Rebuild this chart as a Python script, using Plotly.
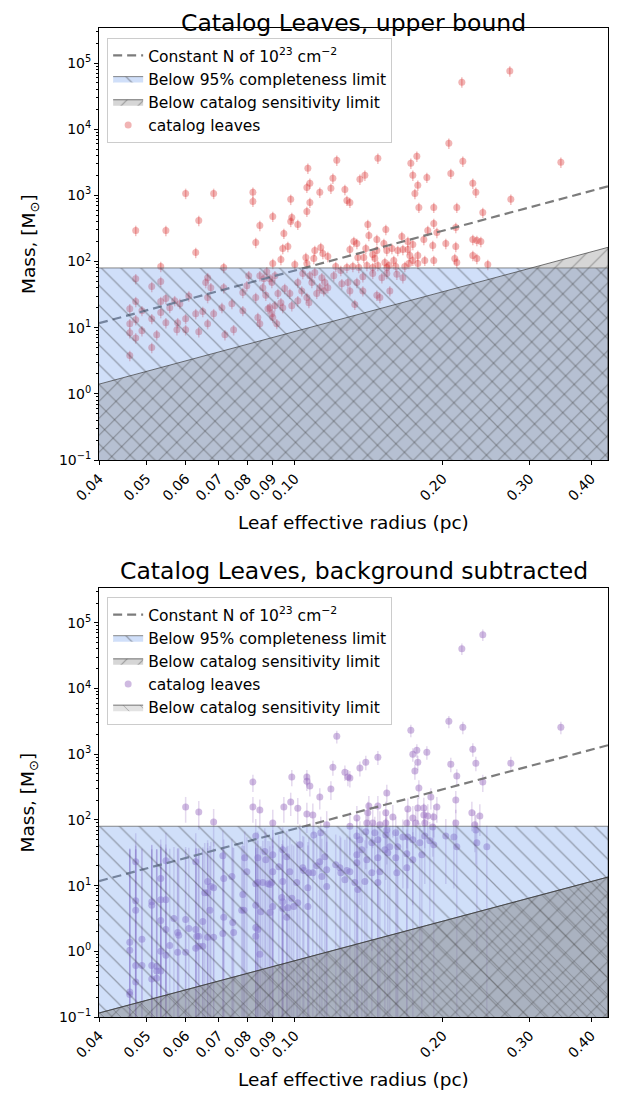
import math
import plotly.graph_objects as go

# --- upper bound catalog: leaf effective radius (pc) and mass (Msun) ---
radius_upper = [
    0.0475, 0.0547, 0.0600, 0.0684, 0.0638, 0.0629, 0.0534, 0.0475, 0.0512, 0.0534,
    0.0462, 0.0475, 0.0489, 0.0462, 0.0475, 0.0475, 0.0489, 0.0462, 0.0462, 0.0512,
    0.0524, 0.0512, 0.0534, 0.0547, 0.0534, 0.0547, 0.0557, 0.0570, 0.0584, 0.0609,
    0.0600, 0.0578, 0.0576, 0.0600, 0.0629, 0.0638, 0.0650, 0.0665, 0.0659, 0.0665,
    0.0675, 0.0684, 0.0665, 0.0711, 0.0717, 0.0717, 0.0721, 0.0751, 0.0745, 0.0784,
    0.0784, 0.0799, 0.0806, 0.0833, 0.0822, 0.0822, 0.0849, 0.0841, 0.0849, 0.0833,
    0.0861, 0.0877, 0.0890, 0.0902, 0.0902, 0.0898, 0.0911, 0.0873, 0.0882,
    0.0981, 0.0986, 0.0981, 0.0950, 0.0945, 0.0968, 0.1014, 0.0937, 0.1000, 0.1063,
    0.1073, 0.1058, 0.1073, 0.1058, 0.1124, 0.1184, 0.1195, 0.1217, 0.1264, 0.1276,
    0.1294, 0.1356, 0.1388, 0.1475, 0.1721, 0.1770, 0.1737, 0.1778, 0.1754, 0.1855,
    0.1787, 0.1916, 0.1916, 0.1407, 0.1414, 0.1531, 0.1468, 0.1517, 0.1394, 0.1318,
    0.1337, 0.1294, 0.1381, 0.1343, 0.1440, 0.1454, 0.1468, 0.1538, 0.1575, 0.1650,
    0.1697, 0.1737, 0.1829, 0.1863, 0.1907, 0.1944, 0.1619, 0.1589, 0.1524, 0.1553,
    0.1713, 0.1737, 0.1778, 0.1837, 0.1697, 0.1658, 0.1140, 0.1167, 0.1129, 0.1098,
    0.1093, 0.1053, 0.1058, 0.1211, 0.1240, 0.1276, 0.1312, 0.1349, 0.1401, 0.1440,
    0.1475, 0.1538, 0.1604, 0.1673, 0.1705, 0.1778, 0.1916, 0.1038, 0.1014, 0.1073,
    0.1098, 0.1135, 0.1151, 0.1124, 0.1145, 0.1167, 0.1083, 0.1108, 0.1058, 0.1068,
    0.1033, 0.1014, 0.0986, 0.0977, 0.0954, 0.0937, 0.0924, 0.0898, 0.0911, 0.0849,
    0.0865, 0.1200, 0.1246, 0.1282, 0.1337, 0.1294, 0.1324, 0.1375, 0.1468, 0.1489,
    0.1560, 0.1658, 0.1612, 0.1538, 0.1503, 0.1440, 0.1375, 0.0945, 0.0890, 0.0902,
    0.0919,
    0.2056, 0.2075, 0.2195, 0.2300, 0.2333, 0.2134, 0.2748, 0.3473, 0.2410, 0.2124,
    0.2027, 0.2124, 0.2114, 0.2134, 0.2300, 0.2344, 0.2388, 0.2300, 0.2344, 0.2467,
    0.2735, 0.2185,
]
mass_upper = [
    295, 295, 1070, 1070, 418, 137, 84, 55, 42, 50,
    19.4, 24.8, 18.1, 11.5, 13.2, 7.0, 9.0, 8.4, 3.8, 5.0,
    7.8, 13.7, 24.8, 27.5, 16.9, 11.9, 20.1, 25.6, 23.1, 30,
    13.7, 11.9, 9.3, 9.3, 16.3, 8.7, 17.5, 28.5, 48, 57,
    40, 16.3, 11.5, 20.1, 40, 81, 7.8, 9.3, 23.1, 34,
    18.1, 43, 61, 194, 811, 1110, 351, 14.2, 11.5, 28.5,
    40, 70, 55, 481, 93, 16.3, 21.5, 31, 19.4,
    870, 464, 404, 266, 157, 169, 364, 107, 90, 2560,
    1520, 1320, 783, 572, 1110, 1280, 1810, 3390, 1230, 840,
    783, 1750, 2010, 3640, 3050, 3900, 2010, 1420, 1070, 1870,
    658, 658, 377, 364, 248, 305, 215, 187, 157, 201,
    187, 152, 115, 115, 128, 111, 147, 147, 157, 239,
    201, 181, 215, 295, 175, 275, 147, 104, 97, 87,
    123, 104, 93, 104, 152, 152, 132, 119, 163, 147,
    111, 115, 93, 84, 73, 81, 84, 81, 87, 81,
    87, 81, 84, 84, 93, 123, 104, 66, 48, 61,
    68, 57, 48, 40, 36, 40, 48, 33, 28.5, 23.9,
    36, 25.6, 21.5, 33, 39, 23.9, 33, 48, 61, 61,
    55, 61, 46, 48, 48, 36, 22.5, 36, 31, 28.5,
    36, 57, 64, 66, 57, 66, 59, 20.1, 20.1, 14.2,
    11.5,
    6140, 2150, 3270, 1520, 1110, 658, 870, 3160, 553, 327,
    187, 169, 111, 97, 215, 208, 201, 123, 111, 90,
    75700, 51500,
]

# --- background subtracted catalog ---
radius_sub = [
    0.0600, 0.0638, 0.0684, 0.0475, 0.0547, 0.0629, 0.0714, 0.0717, 0.0745, 0.0534,
    0.0475, 0.0475, 0.0512, 0.0512, 0.0534, 0.0547, 0.0489, 0.0462, 0.0462, 0.0475,
    0.0489, 0.0475, 0.0462, 0.0462, 0.0512, 0.0524, 0.0524, 0.0534, 0.0512, 0.0524,
    0.0534, 0.0547, 0.0534, 0.0547, 0.0557, 0.0568, 0.0578, 0.0581, 0.0600, 0.0609,
    0.0600, 0.0578, 0.0629, 0.0632, 0.0650, 0.0638, 0.0629, 0.0638, 0.0650, 0.0665,
    0.0684, 0.0672, 0.0656, 0.0665, 0.0675, 0.0684, 0.0665, 0.0717, 0.0714, 0.0748,
    0.0751, 0.0780, 0.0788, 0.0784, 0.0791, 0.0799, 0.0833, 0.0841, 0.0833, 0.0841,
    0.0861, 0.0882, 0.0890, 0.0898, 0.0869, 0.0873, 0.0833, 0.0853, 0.0833, 0.0841,
    0.0833, 0.0849, 0.0822, 0.0822, 0.0849, 0.0902, 0.0902, 0.0902, 0.0890, 0.0902,
    0.0928, 0.0941, 0.0945, 0.0945, 0.0968, 0.0995, 0.0986, 0.0950, 0.0986, 0.0981,
    0.1014, 0.1058, 0.1058, 0.1073, 0.1124, 0.1088, 0.1058, 0.1217, 0.1195, 0.1264,
    0.1282, 0.1184, 0.1161, 0.1129, 0.1093, 0.1024, 0.0945, 0.0963, 0.1038, 0.1068,
    0.1043, 0.0977, 0.0945, 0.1009, 0.1063, 0.1088, 0.1108, 0.1124, 0.1151, 0.1161,
    0.1161, 0.1135, 0.1211, 0.1240, 0.1276, 0.1014, 0.1063, 0.0963,
    0.1721, 0.1737, 0.1770, 0.1778, 0.1754, 0.1855, 0.1787, 0.1475, 0.1394, 0.1356,
    0.1294, 0.1538, 0.1414, 0.1407, 0.1475, 0.1531, 0.1582, 0.1337, 0.1697, 0.1737,
    0.1778, 0.1829, 0.1829, 0.1863, 0.1890, 0.1916, 0.1944, 0.1762, 0.1837, 0.1689,
    0.1907, 0.1294, 0.1440, 0.1401, 0.1489, 0.1531, 0.1538, 0.1454, 0.1394, 0.1337,
    0.1356, 0.1531, 0.1604, 0.1658, 0.1697, 0.1737, 0.1795, 0.1837, 0.1881, 0.1916,
    0.1619, 0.1560, 0.1524, 0.1475, 0.1434, 0.1368, 0.1337, 0.1401, 0.1475, 0.1545,
    0.1604, 0.1689, 0.1737, 0.1812, 0.1689, 0.1612, 0.1489, 0.1434, 0.1337, 0.1294,
    0.1264, 0.1235, 0.1324, 0.1388, 0.1475, 0.1343,
    0.2410, 0.2185, 0.3473, 0.2056, 0.2195, 0.2300, 0.2333, 0.2075, 0.2134, 0.2410,
    0.2748, 0.2124, 0.2290, 0.2377, 0.2124, 0.2322, 0.2027, 0.2105, 0.2134, 0.2344,
    0.2456, 0.2333,
]
mass_sub = [
    157, 132, 93, 23.1, 23.9, 23.1, 28.5, 12.8, 13.7, 12.8,
    5.9, 4.2, 5.7, 5.0, 6.1, 6.1, 1.52, 1.37, 1.04, 0.61,
    0.61, 0.34, 0.24, 0.22, 0.61, 0.59, 0.50, 0.50, 0.38, 0.39,
    1.0, 0.87, 2.95, 2.15, 1.23, 3.16, 1.94, 1.75, 3.05, 2.23,
    0.97, 0.97, 2.15, 1.69, 2.85, 1.69, 1.11, 1.19, 1.19, 1.63,
    1.63, 4.2, 7.8, 7.8, 9.7, 9.3, 11.5, 3.3, 1.87, 2.75,
    1.94, 4.2, 4.2, 7.3, 26.5, 16.3, 57, 26.5, 10.7, 11.1,
    11.1, 10.7, 10.4, 11.1, 33, 24.8, 5.0, 4.0, 2.3, 2.15,
    1.69, 0.9, 157, 377, 141, 90, 29.5, 16.3, 3.9, 4.8,
    19.4, 6.6, 5.7, 4.5, 4.6, 4.8, 6.4, 157, 449, 187,
    151, 449, 389, 327, 223, 119, 123, 1870, 631, 533,
    449, 295, 84, 64, 59, 42, 35, 27.5, 18.7, 15.7,
    16.9, 16.3, 11.5, 11.1, 9.3, 15.7, 20.1, 23.1, 27.5, 17.5,
    9.7, 13.7, 20.8, 15.7, 16.9, 5.5, 4.8, 3.3,
    2310, 1000, 1150, 757, 553, 1070, 305, 900, 757, 614,
    433, 256, 163, 128, 163, 128, 111, 107, 147, 107,
    152, 152, 119, 115, 223, 111, 157, 90, 90, 90,
    78, 80, 90, 90, 84, 90, 70, 64, 66, 57,
    50, 59, 64, 55, 55, 50, 45, 57, 48, 42,
    39, 39, 35, 50, 45, 35, 29.5, 24.8, 26.5, 31.6,
    26.5, 30.5, 24.8, 29.5, 18.7, 15.7, 16.3, 15.7, 22.3, 16.3,
    12.3, 18.7, 11.1, 11.5, 11.1, 8.7,
    65800, 40400, 2560, 3160, 2560, 1190, 731, 705, 464, 377,
    731, 201, 128, 115, 90, 84, 57, 55, 39, 45,
    39, 70,
]

# limits, given at the two ends of the radius range (straight lines in log-log)
radius_edges = [0.04, 0.433]
const_n_mass = [11.7, 1370]
sens_upper_mass = [1.4, 164]
sens_sub_mass = [0.115, 13.5]
completeness_mass = 80
mass_floor = 0.01

# error model: 18% on the upper bound, 20% + 35 Msun background on the subtracted masses
upper_err_pct = 18
sub_err = [0.2 * m + 35 for m in mass_sub]

x_ticks = [0.04, 0.05, 0.06, 0.07, 0.08, 0.09, 0.1, 0.2, 0.3, 0.4]
x_labels = ["0.04", "0.05", "0.06", "0.07", "0.08", "0.09", "0.10", "0.20", "0.30", "0.40"]
y_ticks = [0.1, 1, 10, 100, 1e3, 1e4, 1e5]
y_labels = ["10<sup>−1</sup>", "10<sup>0</sup>", "10<sup>1</sup>", "10<sup>2</sup>",
            "10<sup>3</sup>", "10<sup>4</sup>", "10<sup>5</sup>"]
y_minor = [k * 10 ** e for e in range(-1, 6) for k in range(2, 10)]

FONT = "DejaVu Sans"
BLUE_FILL = "rgba(100,149,237,0.30)"
GREY_FILL = "rgba(128,128,128,0.32)"
GREY_FILL2 = "rgba(128,128,128,0.22)"
HATCH = "rgba(45,45,45,0.75)"

fig = go.Figure()


def add_panel(n, radius, mass, color, err, sens_mass, leg, extra_sens=False):
    xa = "x" if n == 1 else "x2"
    ya = "y" if n == 1 else "y2"
    fig.add_trace(go.Scatter(
        x=radius, y=mass, mode="markers", name="catalog leaves",
        marker=dict(size=7, color=color), error_y=err,
        xaxis=xa, yaxis=ya, legend=leg, legendrank=4))
    fig.add_trace(go.Scatter(
        x=radius_edges, y=const_n_mass, mode="lines",
        name="Constant N of 10<sup>23</sup> cm<sup>−2</sup>",
        line=dict(color="rgba(110,110,110,0.9)", width=2.2, dash="9px,5px"),
        xaxis=xa, yaxis=ya, legend=leg, legendrank=1))
    fig.add_trace(go.Scatter(
        x=[radius_edges[0], radius_edges[1], radius_edges[1], radius_edges[0]],
        y=[completeness_mass, completeness_mass, mass_floor, mass_floor],
        fill="toself", mode="lines", name="Below 95% completeness limit",
        line=dict(color="rgba(90,90,90,0.7)", width=1),
        fillpattern=dict(shape="\\", size=14, solidity=0.09,
                         bgcolor=BLUE_FILL, fgcolor=HATCH),
        xaxis=xa, yaxis=ya, legend=leg, legendrank=2))
    fig.add_trace(go.Scatter(
        x=[radius_edges[0], radius_edges[1], radius_edges[1], radius_edges[0]],
        y=[sens_mass[0], sens_mass[1], mass_floor, mass_floor],
        fill="toself", mode="lines", name="Below catalog sensitivity limit",
        line=dict(color="rgba(60,60,60,0.7)", width=1),
        fillpattern=dict(shape="/", size=12, solidity=0.09,
                         bgcolor=GREY_FILL, fgcolor=HATCH),
        xaxis=xa, yaxis=ya, legend=leg, legendrank=3))
    if extra_sens:
        fig.add_trace(go.Scatter(
            x=[radius_edges[0], radius_edges[1], radius_edges[1], radius_edges[0]],
            y=[sens_mass[0], sens_mass[1], mass_floor, mass_floor],
            fill="toself", mode="lines", name="Below catalog sensitivity limit",
            line=dict(color="rgba(60,60,60,0.7)", width=1),
            fillpattern=dict(shape="\\", size=12, solidity=0.07,
                             bgcolor=GREY_FILL2, fgcolor=HATCH),
            xaxis=xa, yaxis=ya, legend=leg, legendrank=5))


add_panel(1, radius_upper, mass_upper, "rgba(214,39,40,0.35)",
          dict(type="percent", value=upper_err_pct, color="rgba(214,39,40,0.3)",
               thickness=1.5, width=0),
          sens_upper_mass, "legend")
add_panel(2, radius_sub, mass_sub, "rgba(148,103,189,0.45)",
          dict(type="data", array=sub_err, color="rgba(148,103,189,0.25)",
               thickness=1.5, width=0),
          sens_sub_mass, "legend2", extra_sens=True)

xrange = [math.log10(0.04), math.log10(0.433)]
yrange = [-1, 5.53]
xax = dict(type="log", range=xrange, tickvals=x_ticks, ticktext=x_labels, tickangle=-45,
           ticks="outside", ticklen=4, tickcolor="black", showline=True, linecolor="black",
           linewidth=1, mirror=True, showgrid=False, zeroline=False,
           tickfont=dict(size=14, color="black"))
yax = dict(type="log", range=yrange, tickvals=y_ticks, ticktext=y_labels,
           ticks="outside", ticklen=4, tickcolor="black", showline=True, linecolor="black",
           linewidth=1, mirror=True, showgrid=False, zeroline=False,
           minor=dict(tickvals=y_minor, ticks="outside", ticklen=2.5, tickcolor="black"),
           tickfont=dict(size=14, color="black"))

legend_style = dict(xanchor="left", yanchor="top", bgcolor="rgba(255,255,255,0.85)",
                    bordercolor="#cccccc", borderwidth=1, font=dict(size=15.5, color="black"),
                    tracegroupgap=0)

# the page body adds an 8px offset, so the figure is 8px smaller than the window
fig.update_layout(
    width=610, height=1091,
    margin=dict(l=91, r=10, t=20, b=82),
    plot_bgcolor="white", paper_bgcolor="white",
    font=dict(family=FONT, color="black"),
    xaxis=dict(xax, domain=[0, 1], anchor="y"),
    yaxis=dict(yax, domain=[0.5632, 1], anchor="x"),
    xaxis2=dict(xax, domain=[0, 1], anchor="y2"),
    yaxis2=dict(yax, domain=[0, 0.4338], anchor="x2"),
    legend=dict(legend_style, x=0.016, y=0.99),
    legend2=dict(legend_style, x=0.016, y=0.4247),
    showlegend=True,
)

annotations = [
    ("Catalog Leaves, upper bound", 0.5, 1.0202, 23.5, 0, "top"),
    ("Catalog Leaves, background subtracted", 0.5, 0.451, 23.5, 0, "middle"),
    ("Leaf effective radius (pc)", 0.5, 0.4995, 18.5, 0, "middle"),
    ("Leaf effective radius (pc)", 0.5, -0.0627, 18.5, 0, "middle"),
    ("Mass, [M<sub>⊙</sub>]", -0.1356, 0.7816, 18.5, -90, "middle"),
    ("Mass, [M<sub>⊙</sub>]", -0.1356, 0.2169, 18.5, -90, "middle"),
]
for text, ax_x, ax_y, size, angle, anchor in annotations:
    fig.add_annotation(text=text, x=ax_x, y=ax_y, xref="paper", yref="paper",
                       showarrow=False, textangle=angle, font=dict(size=size, color="black"),
                       xanchor="center", yanchor=anchor, borderpad=0)

fig.write_html("out.html")
